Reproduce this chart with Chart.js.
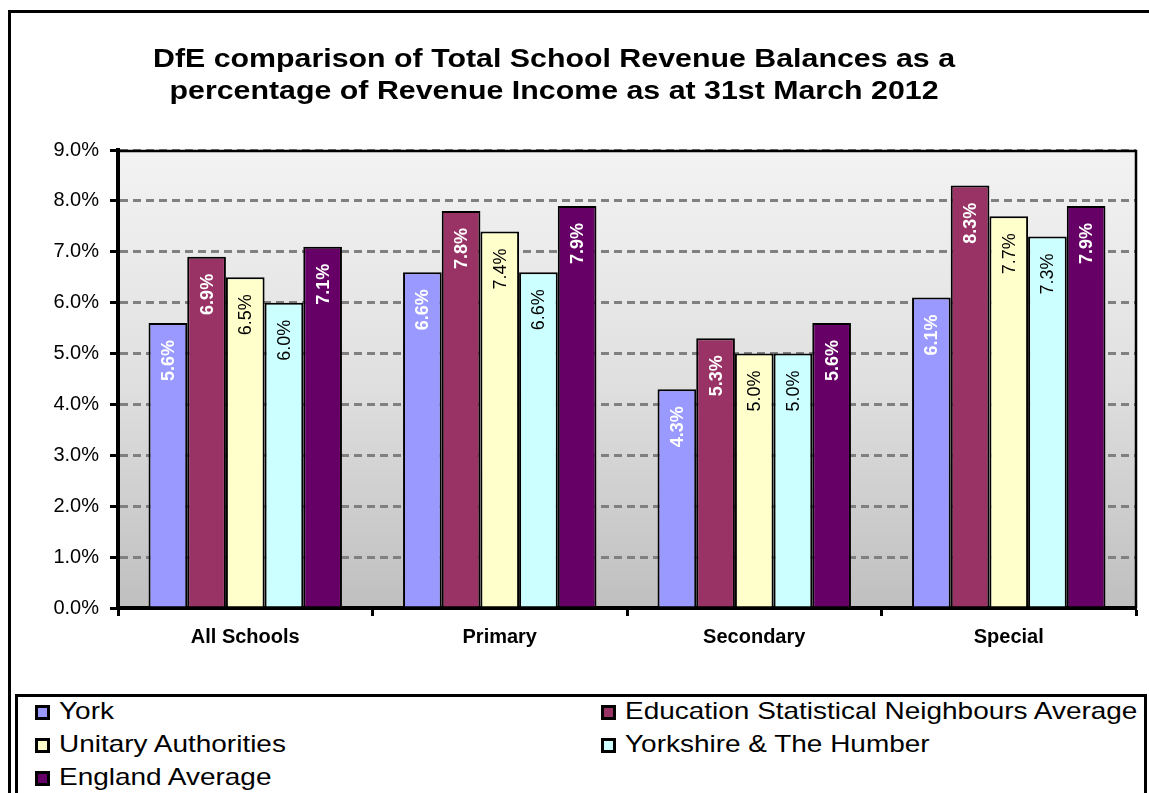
<!DOCTYPE html>
<html>
<head>
<meta charset="utf-8">
<script src="https://cdn.jsdelivr.net/npm/chart.js@4.4.0/dist/chart.umd.min.js"></script>
<style>
  body { margin: 0; background: #fff; width: 1149px; height: 793px; overflow: hidden; position: relative;
         font-family: "Liberation Sans", Arial, sans-serif; }
  #frame { position: absolute; left: 8px; top: 10px; width: 1160px; height: 800px; border: 3px solid #000;
           border-right: none; border-bottom: none; box-sizing: border-box; }
  #wrap { position: absolute; left: 11px; top: 13px; width: 1138px; height: 680px; }
  #legend { position: absolute; left: 15px; top: 694px; width: 1132px; height: 110px; border: 3px solid #000;
            box-sizing: border-box; background: #fff; }
  #legend .items { display: grid; grid-template-columns: 566px auto; margin-top: -3px; padding-left: 17px; }
  #legend .item { height: 33px; line-height: 33px; font-size: 24px; color: #000; white-space: nowrap; }
  #legend .box { display: inline-block; width: 15px; height: 15px; border: 3px solid #000; box-sizing: border-box;
                 margin-right: 9px; vertical-align: -1px; }
  #legend .txt { display: inline-block; transform: scaleX(1.165); transform-origin: left center; }
</style>
</head>
<body>
<div id="frame"></div>
<div id="wrap"><canvas id="balChart" width="1138" height="680"></canvas></div>
<div id="legend"><div class="items" id="legendItems"></div></div>

<script>
// ---------- DATA ----------
const categories = ["All Schools", "Primary", "Secondary", "Special"];
const seriesNames = [
  "York",
  "Education Statistical Neighbours Average",
  "Unitary Authorities",
  "Yorkshire & The Humber",
  "England Average",
];
const york = [5.6, 6.6, 4.3, 6.1];
const statNeighbours = [6.9, 7.8, 5.3, 8.3];
const unitary = [6.5, 7.4, 5.0, 7.7];
const yorkshire = [6.0, 6.6, 5.0, 7.3];
const england = [7.1, 7.9, 5.6, 7.9];
const yTickValues = [0, 1, 2, 3, 4, 5, 6, 7, 8, 9];
const titleLines = [
  "DfE comparison of Total School Revenue Balances as a",
  "percentage of Revenue Income as at 31st March 2012",
];

// ---------- STYLES ----------
const seriesColors = ["#9999ff", "#993366", "#ffffcc", "#ccffff", "#660066"];
const labelColors = ["#ffffff", "#ffffff", "#000000", "#000000", "#ffffff"];
const FONT = '"Liberation Sans", Arial, sans-serif';

const seriesValues = [york, statNeighbours, unitary, yorkshire, england];

// ---------- PLUGINS ----------
const plotBackground = {
  id: "plotBackground",
  beforeDraw(chart) {
    const { ctx, chartArea: a } = chart;
    const g = ctx.createLinearGradient(0, a.top, 0, a.bottom);
    g.addColorStop(0, "#f3f3f3");
    g.addColorStop(0.5, "#e0e0e0");
    g.addColorStop(1, "#bfbfbf");
    ctx.save();
    ctx.fillStyle = g;
    ctx.fillRect(a.left, a.top, a.right - a.left, a.bottom - a.top);
    ctx.restore();
  },
  afterDraw(chart) {
    const { ctx, chartArea: a } = chart;
    ctx.save();
    ctx.strokeStyle = "#000";
    ctx.lineWidth = 2.5;
    ctx.beginPath();
    ctx.moveTo(a.left, a.top + 1);
    ctx.lineTo(a.right, a.top + 1);
    ctx.lineTo(a.right, a.bottom);
    ctx.stroke();
    ctx.restore();
  },
};

const barLabels = {
  id: "barLabels",
  afterDatasetsDraw(chart) {
    const { ctx } = chart;
    chart.data.datasets.forEach((ds, i) => {
      const meta = chart.getDatasetMeta(i);
      meta.data.forEach((bar, j) => {
        const white = labelColors[i] === "#ffffff";
        ctx.save();
        ctx.translate(bar.x, bar.y + 17);
        ctx.rotate(-Math.PI / 2);
        ctx.font = (white ? "bold " : "") + "18px " + FONT;
        ctx.fillStyle = labelColors[i];
        ctx.textAlign = "right";
        ctx.textBaseline = "middle";
        ctx.fillText(ds.data[j].toFixed(1) + "%", 0, 1);
        ctx.restore();
      });
    });
  },
};

// title is a little wider than normal type, as in the original
const chartTitle = {
  id: "chartTitle",
  afterDraw(chart) {
    const { ctx } = chart;
    ctx.save();
    ctx.font = "bold 26.5px " + FONT;
    ctx.fillStyle = "#000";
    ctx.textAlign = "center";
    ctx.textBaseline = "alphabetic";
    [54, 86].forEach((y, k) => {
      ctx.save();
      ctx.translate(543, y);
      ctx.scale(1.145, 1);
      ctx.fillText(titleLines[k], 0, 0);
      ctx.restore();
    });
    ctx.restore();
  },
};

// ---------- CREATE CHART ----------
const ctx = document.getElementById("balChart").getContext("2d");

const balChart = new Chart(ctx, {
  type: "bar",
  data: {
    labels: categories,
    datasets: seriesNames.map((name, i) => ({
      label: name,
      data: seriesValues[i],
      backgroundColor: seriesColors[i],
      borderColor: "#000",
      borderWidth: 2,
      borderSkipped: "bottom",
      categoryPercentage: 0.76,
      barPercentage: 1.0,
    })),
  },
  options: {
    responsive: false,
    animation: false,
    layout: { padding: { left: 0, right: 13, top: 137, bottom: 0 } },
    scales: {
      x: {
        afterFit(scale) { scale.height = 85; },
        grid: {
          offset: true,
          drawOnChartArea: false,
          tickColor: "#000",
          tickWidth: 3,
          tickLength: 8,
        },
        border: { color: "#000", width: 4 },
        ticks: {
          color: "#000",
          padding: 9,
          font: { family: FONT, size: 20, weight: "bold" },
        },
      },
      y: {
        min: 0,
        max: 9,
        afterFit(scale) { scale.width = 107; },
        afterBuildTicks(scale) { scale.ticks = yTickValues.map((v) => ({ value: v })); },
        grid: {
          color: "#808080",
          lineWidth: 3,
          tickColor: "#000",
          tickWidth: 3,
          tickLength: 8,
          tickBorderDash: [],
        },
        border: { color: "#000", width: 4, dash: [8, 5] },
        ticks: {
          color: "#000",
          padding: 11,
          font: { family: FONT, size: 20 },
          callback: (v) => Number(v).toFixed(1) + "%",
        },
      },
    },
    plugins: {
      legend: { display: false },
      title: { display: false },
      tooltip: { enabled: false },
    },
  },
  plugins: [plotBackground, barLabels, chartTitle],
});

// ---------- LEGEND ----------
const legendEl = document.getElementById("legendItems");
seriesNames.forEach((name, i) => {
  const item = document.createElement("div");
  item.className = "item";
  const box = document.createElement("span");
  box.className = "box";
  box.style.background = seriesColors[i];
  const txt = document.createElement("span");
  txt.className = "txt";
  txt.textContent = name;
  item.appendChild(box);
  item.appendChild(txt);
  legendEl.appendChild(item);
});
</script>
</body>
</html>
